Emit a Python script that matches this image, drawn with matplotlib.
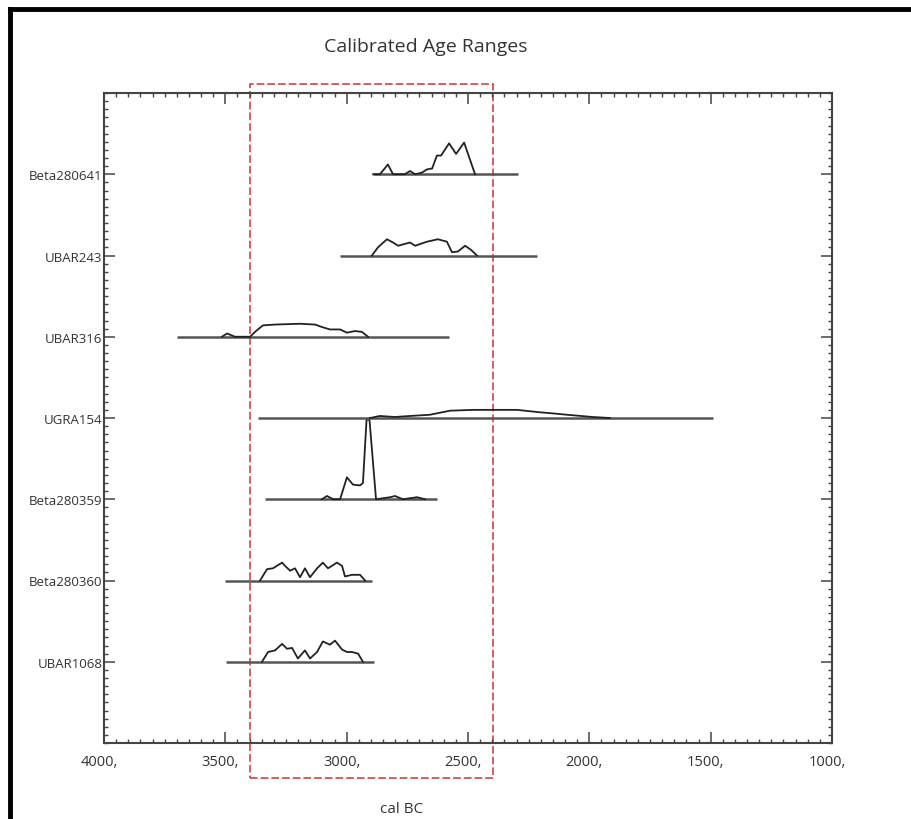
import matplotlib
matplotlib.use('Agg')
import matplotlib.pyplot as plt
from matplotlib.patches import Rectangle
from matplotlib.lines import Line2D
from matplotlib.ticker import MultipleLocator
from matplotlib.transforms import ScaledTranslation

plt.rcParams['font.family'] = ['Open Sans', 'DejaVu Sans']

# sample names, bottom row first
samples = ['UBAR1068', 'Beta280360', 'Beta280359', 'UGRA154', 'UBAR316', 'UBAR243', 'Beta280641']
# horizontal range line of each sample (cal BC)
range_start = [3497, 3501, 3337, 3365, 3699, 3027, 2891]
range_end = [2887, 2896, 2628, 1490, 2578, 2216, 2294]

# x axis ticks (cal BC)
year_ticks = [4000, 3500, 3000, 2500, 2000, 1500, 1000]
year_labels = ['4000,', '3500,', '3000,', '2500,', '2000,', '1500,', '1000,']

# probability curves (years cal BC, height in row units)
ubar1068_yr = [3349, 3324, 3295, 3266, 3246, 3225, 3201, 3172, 3151, 3122, 3098, 3069, 3048, 3019, 2999, 2978, 2953, 2933]
ubar1068_p = [0, .12, .14, .22, .16, .17, .04, .14, .04, .12, .25, .21, .26, .15, .12, .12, .10, 0]

beta280360_yr = [3357, 3328, 3304, 3266, 3254, 3233, 3213, 3192, 3172, 3151, 3122, 3098, 3077, 3040, 3019, 3007, 2978, 2945, 2924]
beta280360_p = [0, .14, .15, .22, .18, .12, .15, .04, .15, .04, .15, .22, .15, .22, .18, .05, .07, .07, 0]

beta280359_yr = [3102, 3081, 3056, 3027, 2999, 2974, 2945, 2933, 2918, 2906, 2879, 2821, 2801, 2768, 2710, 2677]
beta280359_p = [0, .04, 0, 0, .27, .18, .17, .20, .98, .98, 0, .025, .04, 0, .025, 0]

ugra154_yr = [2904, 2863, 2801, 2739, 2657, 2574, 2479, 2368, 2298, 2203, 2162, 2092, 1985, 1915]
ugra154_p = [0, .025, .012, .025, .04, .09, .10, .10, .10, .07, .06, .04, .012, 0]

ubar316_yr = [3514, 3493, 3460, 3398, 3374, 3345, 3295, 3192, 3130, 3102, 3069, 3027, 2999, 2966, 2937, 2912]
ubar316_p = [0, .04, 0, 0, .07, .14, .15, .16, .15, .12, .09, .09, .05, .07, .06, 0]

ubar243_yr = [2896, 2871, 2834, 2809, 2788, 2739, 2718, 2669, 2624, 2587, 2566, 2541, 2512, 2488, 2463]
ubar243_p = [0, .10, .20, .16, .12, .16, .12, .17, .20, .17, .04, .05, .12, .07, 0]

beta280641_yr = [2891, 2863, 2830, 2809, 2760, 2739, 2718, 2690, 2669, 2648, 2628, 2611, 2578, 2549, 2516, 2471]
beta280641_p = [0, 0, .12, 0, 0, .04, 0, .02, .06, .07, .23, .23, .38, .25, .39, 0]

curve_years = [ubar1068_yr, beta280360_yr, beta280359_yr, ugra154_yr, ubar316_yr, ubar243_yr, beta280641_yr]
curve_probs = [ubar1068_p, beta280360_p, beta280359_p, ugra154_p, ubar316_p, ubar243_p, beta280641_p]

# highlighted window (cal BC)
window = (3400, 2395)

fig = plt.figure(figsize=(9.11, 8.2), dpi=100)
ax = fig.add_axes([104 / 911, 76 / 820, 728 / 911, 650 / 820])

for i, name in enumerate(samples):
    row = i + 1
    ax.plot([range_start[i], range_end[i]], [row, row], color='#555555', lw=1.8, solid_capstyle='butt')
    ax.plot(curve_years[i], [row + p for p in curve_probs[i]], color='#222222', lw=1.3)

ax.set_xlim(4000, 1000)
ax.set_ylim(0, 8)

ax.set_xticks(year_ticks, year_labels)
ax.xaxis.set_minor_locator(MultipleLocator(50))
ax.set_yticks(range(1, len(samples) + 1), samples)
ax.yaxis.set_minor_locator(MultipleLocator(0.1))

ax.tick_params(which='both', direction='in', top=True, right=True, colors='#444444')
ax.tick_params(which='major', length=8, width=1.1)
ax.tick_params(which='minor', length=3, width=1.0)
ax.tick_params(axis='x', labelsize=10.5, pad=8, labelcolor='#333333')
ax.tick_params(axis='y', labelsize=9.5, pad=1, labelcolor='#333333')
for lab in ax.get_xticklabels():
    lab.set_transform(lab.get_transform() + ScaledTranslation(-0.05, 0, fig.dpi_scale_trans))

for s in ax.spines.values():
    s.set_color('#444444')
    s.set_linewidth(1.5)

# red dashed window, drawn past the axes
rect = Rectangle((window[0], -0.43), window[1] - window[0], 8.54, fill=False,
                 edgecolor='#cc3333', lw=1.1, ls=(0, (5, 2)), clip_on=False)
ax.add_patch(rect)

fig.text(426 / 911, 1 - 47 / 820, 'Calibrated Age Ranges', ha='center', va='center',
         fontsize=14, color='#333333')
fig.text(402 / 911, 1 - 810 / 820, 'cal BC', ha='center', va='center', fontsize=11, color='#333333')

# screenshot frame: top and left black edges
fig.add_artist(Line2D([10 / 911, 10 / 911], [0, 1 - 10 / 820], color='black', lw=3.5))
fig.add_artist(Line2D([10 / 911, 1], [1 - 10 / 820, 1 - 10 / 820], color='black', lw=3.5))

fig.savefig('out.png', dpi=100)
